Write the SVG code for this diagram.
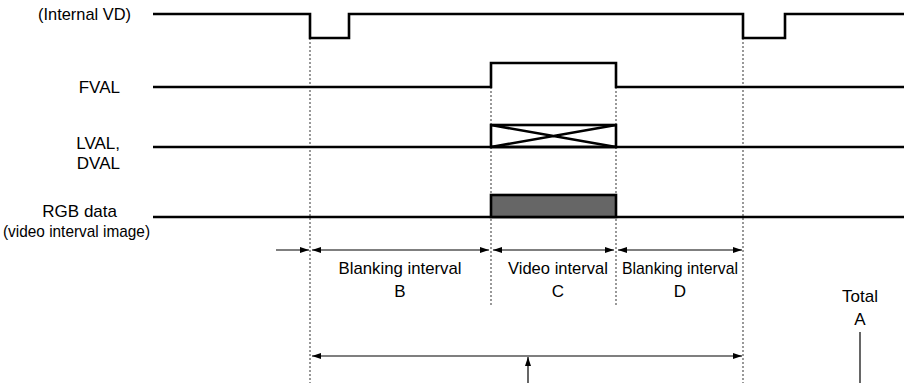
<svg xmlns="http://www.w3.org/2000/svg" width="910" height="383" viewBox="0 0 910 383">
<style>
text{font-family:"Liberation Sans",Arial,sans-serif;font-size:17px;fill:#000}
.r{text-anchor:end}
.m{text-anchor:middle}
.sig{fill:none;stroke:#000;stroke-width:2.6}
.dot{stroke:#555;stroke-width:1.2;stroke-dasharray:2,2;fill:none}
.dim{stroke:#000;stroke-width:1.2;fill:none}
</style>
<defs>
<marker id="ah" markerWidth="10" markerHeight="8" refX="9" refY="4" orient="auto-start-reverse" markerUnits="userSpaceOnUse">
<path d="M0,1 L9,4 L0,7 Z" fill="#000"/>
</marker>
</defs>
<g id="labels">
<text class="r" x="131" y="20" textLength="93" lengthAdjust="spacingAndGlyphs">(Internal VD)</text>
<text class="r" x="120" y="93">FVAL</text>
<text class="r" x="120" y="149">LVAL,</text>
<text class="r" x="120" y="169">DVAL</text>
<text class="r" x="117" y="217">RGB data</text>
<text x="3" y="237" textLength="147" lengthAdjust="spacingAndGlyphs">(video interval image)</text>
</g>
<g id="guides">
<line class="dot" x1="310" y1="38" x2="310" y2="383"/>
<line class="dot" x1="491" y1="87" x2="491" y2="307"/>
<line class="dot" x1="616" y1="87" x2="616" y2="307"/>
<line class="dot" x1="743" y1="38" x2="743" y2="383"/>
</g>
<g id="internal-vd">
<path class="sig" d="M153,14 H310 V38 H349 V14 H743 V38 H785 V14 H904"/>
</g>
<g id="fval">
<path class="sig" d="M153,87 H491 V63 H616 V87 H904"/>
</g>
<g id="lval-dval">
<path class="sig" d="M153,147 H904"/>
<rect class="sig" x="491" y="125" width="125" height="22"/>
<path class="sig" d="M491,125 L616,147 M491,147 L616,125" stroke-width="2"/>
</g>
<g id="rgb-data">
<path class="sig" d="M153,217 H904"/>
<rect class="sig" x="491" y="195" width="125" height="22" style="fill:#666"/>
</g>
<g id="connectors">
<line class="dim" x1="276" y1="250" x2="309" y2="250" marker-end="url(#ah)"/>
<line class="dim" x1="312" y1="250" x2="489" y2="250" marker-start="url(#ah)" marker-end="url(#ah)"/>
<line class="dim" x1="493" y1="250" x2="614" y2="250" marker-start="url(#ah)" marker-end="url(#ah)"/>
<line class="dim" x1="618" y1="250" x2="742" y2="250" marker-start="url(#ah)" marker-end="url(#ah)"/>
<line class="dim" x1="312" y1="356" x2="742" y2="356" marker-start="url(#ah)" marker-end="url(#ah)"/>
<line class="dim" x1="528" y1="383" x2="528" y2="357" marker-end="url(#ah)"/>
<line class="dim" x1="860" y1="332" x2="860" y2="383"/>
</g>
<g id="interval-b">
<text class="m" x="400" y="274" textLength="123" lengthAdjust="spacingAndGlyphs">Blanking interval</text>
<text class="m" x="400" y="297">B</text>
</g>
<g id="interval-c">
<text class="m" x="558" y="274" textLength="100" lengthAdjust="spacingAndGlyphs">Video interval</text>
<text class="m" x="558" y="297">C</text>
</g>
<g id="interval-d">
<text class="m" x="680" y="274" textLength="116" lengthAdjust="spacingAndGlyphs">Blanking interval</text>
<text class="m" x="680" y="297">D</text>
</g>
<g id="total-a">
<text class="m" x="860" y="302">Total</text>
<text class="m" x="860" y="325">A</text>
</g>
</svg>
